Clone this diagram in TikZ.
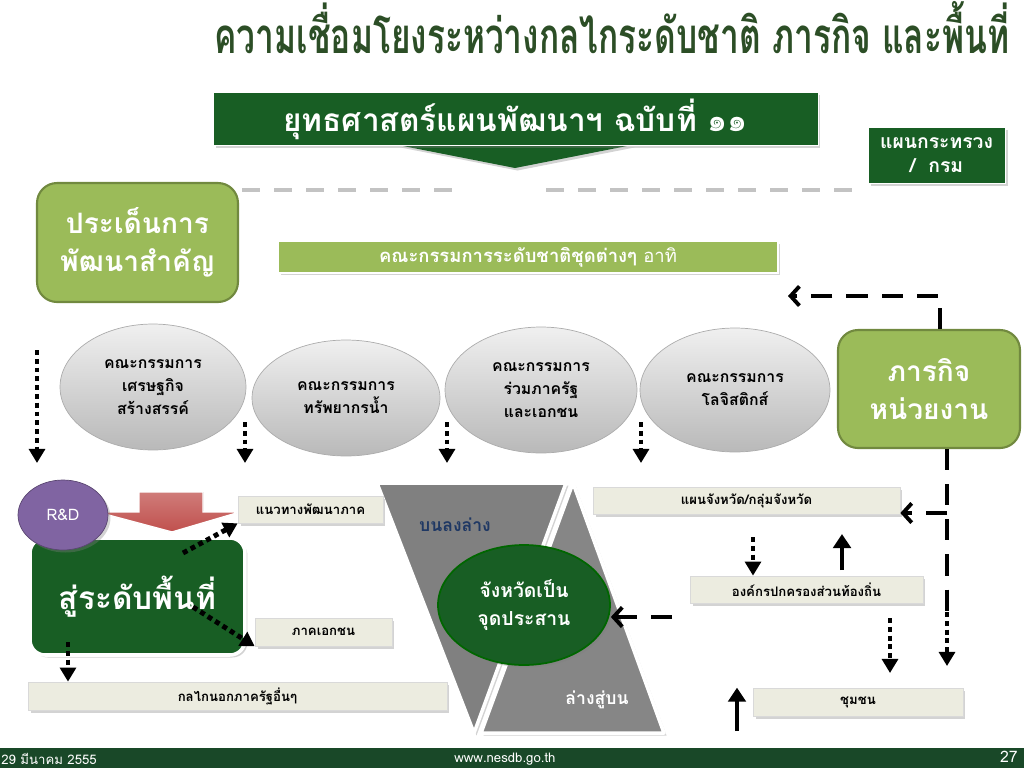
\documentclass[tikz,border=0pt]{standalone}
\usepackage{fontspec}
\usepackage{graphicx}
\setmainfont[Script=Thai]{Loma}
\usetikzlibrary{shapes.geometric,arrows.meta,shadows,positioning}

\definecolor{darkgreen}{RGB}{24,94,36}
\definecolor{footgreen}{RGB}{25,72,40}
\definecolor{olive}{RGB}{155,187,89}
\definecolor{olivedark}{RGB}{113,137,63}
\definecolor{paper}{RGB}{236,236,224}
\definecolor{plum}{RGB}{128,100,162}
\definecolor{brick}{RGB}{192,80,77}
\definecolor{titlegreen}{RGB}{44,78,38}
\definecolor{navy}{RGB}{31,56,100}
\definecolor{lightgrey}{RGB}{195,195,195}

\tikzset{
  softshadow/.style={drop shadow={opacity=0.35,shadow xshift=0.05cm,shadow yshift=-0.05cm}},
  notebox/.style={rectangle,fill=paper,draw=black!15,line width=0.4pt,softshadow,
    font=\fontsize{7.5}{9}\selectfont\bfseries,inner sep=0pt},
  committee/.style={ellipse,top color=gray!12,bottom color=gray!55,draw=gray!65,
    font=\fontsize{9}{13}\selectfont\bfseries,align=center,inner sep=0pt},
  keybox/.style={rectangle,rounded corners=0.4cm,fill=olive,draw=olivedark,line width=1.2pt,
    text=white,font=\fontsize{16}{22}\selectfont\bfseries,align=center},
  greydash/.style={draw=lightgrey,line width=2pt},
  dotline/.style={line width=2.8pt,dash pattern=on 2.8pt off 2.2pt,-{Triangle[length=8pt,width=9pt]}},
  dashline/.style={line width=2.2pt,dash pattern=on 12pt off 8pt},
  barbtip/.style={-{Straight Barb[length=5pt,width=11pt]}},
  uparrow/.style={line width=2.8pt,-{Triangle[length=8pt,width=10pt]}},
}

\begin{document}
\begin{tikzpicture}[x=0.02cm,y=-0.02cm]
\useasboundingbox (0,0) rectangle (1024,768);

% title
\node[text=titlegreen] (title) at (612,28)
  {\resizebox{15.9cm}{\height}{\fontsize{28}{30}\selectfont\bfseries ความเชื่อมโยงระหว่างกลไกระดับชาติ ภารกิจ และพื้นที่}};

% plan banner
\fill[darkgreen,softshadow] (398,145) -- (632,145) -- (515,168) -- cycle;
\node[rectangle,fill=darkgreen,draw=white,minimum width=12.1cm,minimum height=0.96cm,
  text=white,font=\fontsize{18}{20}\selectfont\bfseries,softshadow] (plan) at (515.5,119)
  {ยุทธศาสตร์แผนพัฒนาฯ ฉบับที่ ๑๑};

\node[rectangle,fill=darkgreen,draw=white,minimum width=2.74cm,minimum height=1.12cm,
  text=white,font=\fontsize{11}{14}\selectfont\bfseries,align=center,softshadow] (ministry) at (936.5,155)
  {แผนกระทรวง\\/~~กรม};

% grey dashes
\foreach \x in {242,274,...,450} \draw[greydash] (\x,190) -- ++(18,0);
\foreach \x in {546,578,...,850} \draw[greydash] (\x,190) -- ++(18,0);

\node[keybox,minimum width=4.02cm,minimum height=2.38cm] (issues) at (137.5,242.5)
  {ประเด็นการ\\พัฒนาสำคัญ};
\node[rectangle,fill=olive,draw=white,line width=1pt,minimum width=10cm,minimum height=0.6cm,
  text=white,font=\fontsize{10.5}{12}\selectfont,softshadow] (natcom) at (528,257)
  {\textbf{คณะกรรมการระดับชาติชุดต่างๆ} อาทิ};
\node[keybox,minimum width=3.64cm,minimum height=2.36cm] (mission) at (929,389)
  {ภารกิจ\\หน่วยงาน};

% committees
\node[committee,minimum width=3.72cm,minimum height=2.52cm] (econ) at (153,387)
  {คณะกรรมการ\\เศรษฐกิจ\\สร้างสรรค์};
\node[committee,minimum width=3.76cm,minimum height=2.32cm] (water) at (346,398)
  {คณะกรรมการ\\ทรัพยากรน้ำ};
\node[committee,minimum width=3.84cm,minimum height=2.52cm] (ppp) at (541,390)
  {คณะกรรมการ\\ร่วมภาครัฐ\\และเอกชน};
\node[committee,minimum width=3.80cm,minimum height=2.48cm] (logis) at (735,390)
  {คณะกรรมการ\\โลจิสติกส์};

\coordinate (d0) at (37,350);   \coordinate (d0e) at (37,463);
\coordinate (d1) at (245,422);  \coordinate (d1e) at (245,463);
\coordinate (d2) at (447,422);  \coordinate (d2e) at (447,463);
\coordinate (d3) at (641,422);  \coordinate (d3e) at (641,463);
\draw[dotline] (d0) -- (d0e);
\draw[dotline] (d1) -- (d1e);
\draw[dotline] (d2) -- (d2e);
\draw[dotline] (d3) -- (d3e);

% mission lines
\coordinate (mtop) at (940,296);
\coordinate (mleft) at (788,296);
\draw[dashline,barbtip] (mtop |- mission.north) -- (mtop) -- (mleft);

% hourglass
\fill[gray!100!white,softshadow] (377,483) -- (566,483) -- (474,733) -- cycle;
\fill[gray!95!white,softshadow] (573,483) -- (664,733) -- (481,733) -- cycle;
\draw[white,line width=2pt,line join=round] (377,483) -- (566,483) -- (474,733) -- cycle;
\draw[white,line width=2pt,line join=round] (573,483) -- (664,733) -- (481,733) -- cycle;
\node[text=navy,font=\fontsize{10}{12}\selectfont\bfseries] (topdown) at (455,525) {บนลงล่าง};
\node[text=white,font=\fontsize{10}{12}\selectfont\bfseries] (bottomup) at (597,700) {ล่างสู่บน};

\node[ellipse,fill=darkgreen,draw=green!40!black,line width=1pt,minimum width=3.44cm,minimum height=2.4cm,
  text=white,font=\fontsize{11}{16}\selectfont\bfseries,align=center,softshadow] (province) at (524,605)
  {จังหวัดเป็น\\จุดประสาน};

% area
\node[rectangle,rounded corners=0.3cm,fill=darkgreen,draw=white,line width=2pt,minimum width=4.3cm,
  minimum height=2.34cm,text=white,font=\fontsize{18}{20}\selectfont\bfseries,softshadow] (area) at (137.5,596.5)
  {สู่ระดับพื้นที่};
\fill[top color=brick!75!white,bottom color=brick,draw=white,line width=0.8pt]
  (139,492) -- (203,492) -- (203,512) -- (240,512) -- (172,532) -- (97,512) -- (139,512) -- cycle;
\node[ellipse,fill=plum,draw=plum!70!black,minimum width=1.8cm,minimum height=1.4cm,
  text=white,font=\fontsize{9}{10}\selectfont,softshadow] (rd) at (63,515) {R\&D};

% notes
\node[notebox,minimum width=2.9cm,minimum height=0.54cm] (guide) at (310.5,509.5) {แนวทางพัฒนาภาค};
\node[notebox,minimum width=2.74cm,minimum height=0.56cm] (private) at (323.5,632) {ภาคเอกชน};
\node[notebox,minimum width=8.38cm,minimum height=0.56cm] (other) at (237.5,696) {กลไกนอกภาครัฐอื่นๆ};
\node[notebox,minimum width=6.14cm,minimum height=0.54cm] (provplan) at (746.5,500.5) {แผนจังหวัด/กลุ่มจังหวัด};
\node[notebox,minimum width=4.66cm,minimum height=0.54cm] (local) at (806.5,589.5) {องค์กรปกครองส่วนท้องถิ่น};
\node[notebox,minimum width=4.2cm,minimum height=0.56cm] (community) at (858,702) {ชุมชน};

\coordinate (a1) at (183,553);
\coordinate (a2) at (193,607);
\coordinate (a3) at (68,642);
\draw[dotline] (a1) -- (guide.south west);
\draw[dotline] (a2) -- (private.south west);
\draw[dotline] (a3) -- (a3 |- other.north);

\coordinate (mbend) at (947,513);
\coordinate (mdot) at (947,612);
\coordinate (mend) at (947,666);
\draw[dashline] (mbend |- mission.south) -- (mdot);
\draw[dotline] (mdot) -- (mend);
\draw[dashline,barbtip] (mbend) -- (mbend -| provplan.east);

\coordinate (pright) at (672,617);
\draw[dashline,barbtip] (pright) -- (pright -| province.east);

\coordinate (p1) at (753,537);
\coordinate (p2) at (842,570);
\coordinate (p2e) at (842,534);
\coordinate (p3) at (890,618);
\coordinate (p3e) at (890,673);
\coordinate (p4) at (737,731);
\draw[dotline] (p1) -- (p1 |- local.north);
\draw[uparrow] (p2) -- (p2e);
\draw[dotline] (p3) -- (p3e);
\draw[uparrow] (p4) -- (p4 |- community.north west);

% footer
\fill[footgreen] (0,748) rectangle (1024,768);
\node[text=white,font=\fontsize{7.5}{9}\selectfont,anchor=west,inner sep=0pt] (date) at (1,759) {29 มีนาคม 2555};
\node[text=white,font=\fontsize{7.5}{9}\selectfont,inner sep=0pt] (web) at (505,759) {www.nesdb.go.th};
\node[text=white,font=\fontsize{9}{10}\selectfont,anchor=east,inner sep=0pt] (page) at (1018,757) {27};
\end{tikzpicture}
\end{document}
